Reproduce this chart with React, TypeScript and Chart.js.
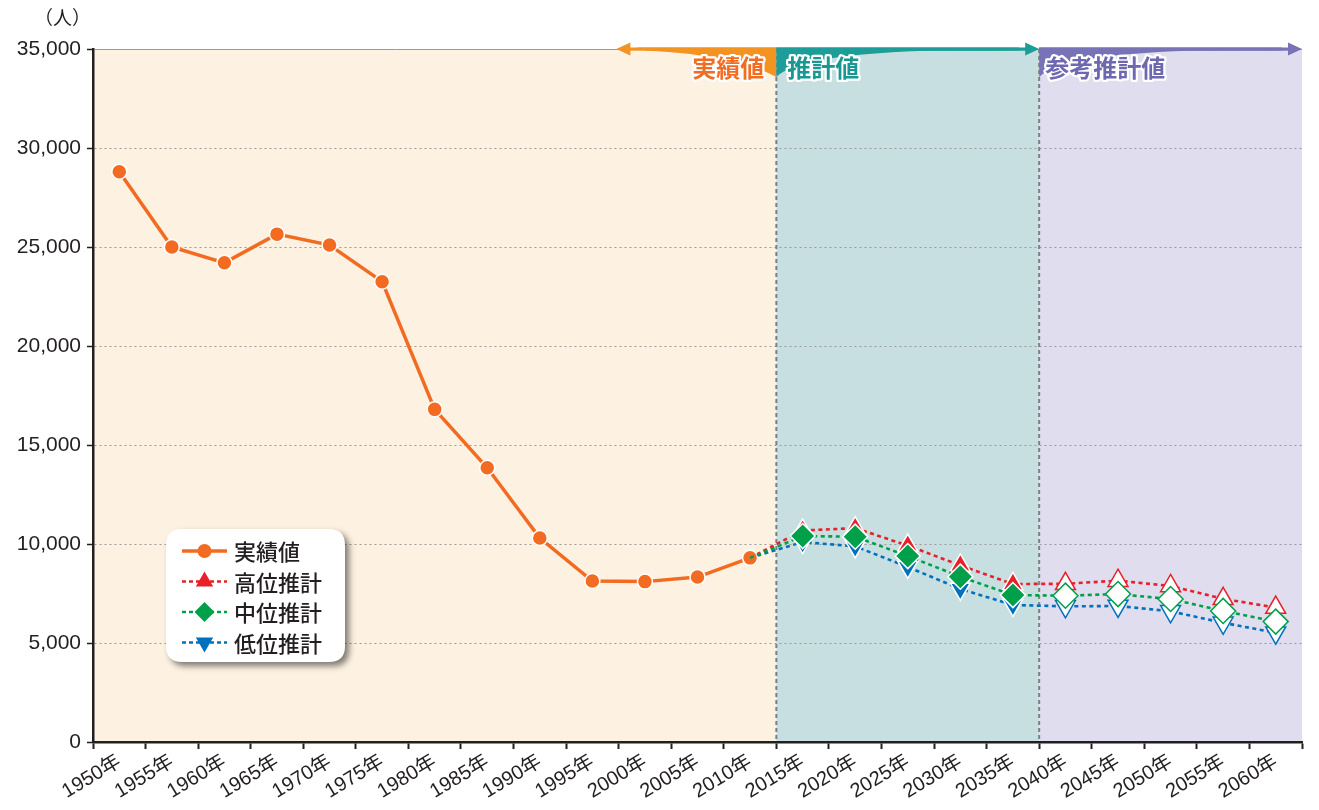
import React, { useEffect, useRef } from 'react';
import { Chart, registerables } from 'chart.js';

Chart.register(...registerables);

const years = ['1950年','1955年','1960年','1965年','1970年','1975年','1980年','1985年','1990年','1995年','2000年','2005年','2010年','2015年','2020年','2025年','2030年','2035年','2040年','2045年','2050年','2055年','2060年'];
const N = null;
const actual = [28800, 25000, 24200, 25650, 25100, 23250, 16800, 13850, 10300, 8130, 8100, 8330, 9300, N, N, N, N, N, N, N, N, N, N];
const highProj = [N, N, N, N, N, N, N, N, N, N, N, N, 9300, 10680, 10800, 9920, 8920, 7980, 7990, 8150, 7880, 7230, 6790];
const midProj = [N, N, N, N, N, N, N, N, N, N, N, N, 9300, 10400, 10370, 9390, 8350, 7420, 7390, 7470, 7220, 6620, 6080];
const lowProj = [N, N, N, N, N, N, N, N, N, N, N, N, 9300, 10100, 9880, 8840, 7730, 6920, 6850, 6870, 6600, 6020, 5520];
const yTicks = [0, 5000, 10000, 15000, 20000, 25000, 30000, 35000];
const seriesNames = ['実績値', '高位推計', '中位推計', '低位推計'];
const periodNames = ['実績値', '推計値', '参考推計値'];
const unitLabel = '（人）';

const LAST_ACTUAL = 12;
const LAST_PROJ = 17;

const NUM_FONT = "'Liberation Sans', 'Noto Sans CJK JP', sans-serif";
const JP_FONT = "'Noto Sans CJK JP', sans-serif";

const C_ORANGE = '#f26b21';
const C_RED = '#e8202a';
const C_GREEN = '#00a04a';
const C_BLUE = '#0071bc';

function ptRadius(r: number) {
  return (ctx: any) => (ctx.dataIndex === LAST_ACTUAL ? 0 : r);
}
function ptBg(color: string) {
  return (ctx: any) => (ctx.dataIndex > LAST_PROJ ? '#ffffff' : color);
}
function ptBorder(color: string) {
  return (ctx: any) => (ctx.dataIndex > LAST_PROJ ? color : '#ffffff');
}

function outlinedText(ctx: CanvasRenderingContext2D, text: string, x: number, y: number, color: string, align: CanvasTextAlign) {
  ctx.save();
  ctx.font = `bold 24px ${JP_FONT}`;
  ctx.textAlign = align;
  ctx.textBaseline = 'middle';
  ctx.lineJoin = 'round';
  ctx.lineWidth = 4.5;
  ctx.strokeStyle = '#ffffff';
  ctx.strokeText(text, x, y);
  ctx.fillStyle = color;
  ctx.fillText(text, x, y);
  ctx.restore();
}

function drawMarker(ctx: CanvasRenderingContext2D, kind: string, x: number, y: number, color: string) {
  ctx.save();
  ctx.fillStyle = color;
  ctx.beginPath();
  if (kind === 'circle') {
    ctx.arc(x, y, 7, 0, Math.PI * 2);
  } else if (kind === 'up') {
    const r = 10;
    ctx.moveTo(x, y - r);
    ctx.lineTo(x + r * 0.866, y + r / 2);
    ctx.lineTo(x - r * 0.866, y + r / 2);
    ctx.closePath();
  } else if (kind === 'down') {
    const r = 10;
    ctx.moveTo(x, y + r);
    ctx.lineTo(x + r * 0.866, y - r / 2);
    ctx.lineTo(x - r * 0.866, y - r / 2);
    ctx.closePath();
  } else {
    const r = 10;
    ctx.moveTo(x, y - r);
    ctx.lineTo(x + r, y);
    ctx.lineTo(x, y + r);
    ctx.lineTo(x - r, y);
    ctx.closePath();
  }
  ctx.fill();
  ctx.restore();
}

const overlayPlugin = {
  id: 'overlay',
  beforeDraw(chart: any) {
    const { ctx, chartArea: ca, scales } = chart;
    const x = scales.x;
    const b1 = (x.getPixelForValue(LAST_ACTUAL) + x.getPixelForValue(LAST_ACTUAL + 1)) / 2;
    const b2 = (x.getPixelForValue(LAST_PROJ) + x.getPixelForValue(LAST_PROJ + 1)) / 2;
    ctx.save();
    ctx.fillStyle = '#fdf1e1';
    ctx.fillRect(ca.left, ca.top, b1 - ca.left, ca.bottom - ca.top);
    ctx.fillStyle = '#c7dfe0';
    ctx.fillRect(b1, ca.top, b2 - b1, ca.bottom - ca.top);
    ctx.fillStyle = '#dfddee';
    ctx.fillRect(b2, ca.top, ca.right - b2, ca.bottom - ca.top);
    ctx.restore();
  },
  beforeDatasetsDraw(chart: any) {
    const { ctx, chartArea: ca, scales } = chart;
    const x = scales.x;
    const b1 = (x.getPixelForValue(LAST_ACTUAL) + x.getPixelForValue(LAST_ACTUAL + 1)) / 2;
    const b2 = (x.getPixelForValue(LAST_PROJ) + x.getPixelForValue(LAST_PROJ + 1)) / 2;
    ctx.save();
    ctx.strokeStyle = '#7f7f7f';
    ctx.lineWidth = 2;
    ctx.setLineDash([4, 3]);
    for (const bx of [b1, b2]) {
      ctx.beginPath();
      ctx.moveTo(bx, ca.top);
      ctx.lineTo(bx, ca.bottom);
      ctx.stroke();
    }
    ctx.restore();
  },
  afterDraw(chart: any) {
    const { ctx, chartArea: ca, scales } = chart;
    const x = scales.x;
    const b1 = (x.getPixelForValue(LAST_ACTUAL) + x.getPixelForValue(LAST_ACTUAL + 1)) / 2;
    const b2 = (x.getPixelForValue(LAST_PROJ) + x.getPixelForValue(LAST_PROJ + 1)) / 2;
    const top = ca.top;
    const right = ca.right;

    // unit label
    ctx.save();
    ctx.font = `19px ${JP_FONT}`;
    ctx.fillStyle = '#231f20';
    ctx.textAlign = 'left';
    ctx.textBaseline = 'middle';
    ctx.fillText(unitLabel, 34, 18);
    ctx.restore();

    const cO = '#f39321';
    const cT = '#1d9c98';
    const cP = '#7872b6';
    ctx.save();
    // orange arrow (pointing left)
    ctx.fillStyle = cO;
    ctx.fillRect(b1 - 160 + 12, top - 1.5, 160 - 12, 3.2);
    ctx.beginPath();
    ctx.moveTo(b1 - 160, top);
    ctx.lineTo(b1 - 146, top - 6.5);
    ctx.lineTo(b1 - 146, top + 6.5);
    ctx.closePath();
    ctx.fill();
    ctx.beginPath();
    ctx.moveTo(b1, top - 1.5);
    ctx.lineTo(b1 - 140, top - 1.5);
    ctx.lineTo(b1 - 130, top + 1.5);
    ctx.quadraticCurveTo(b1 - 40, top + 6, b1, top + 28);
    ctx.closePath();
    ctx.fill();

    // teal arrow
    ctx.fillStyle = cT;
    ctx.fillRect(b1, top - 1.5, b2 - b1 - 12, 3.2);
    ctx.beginPath();
    ctx.moveTo(b2, top);
    ctx.lineTo(b2 - 14, top - 6.5);
    ctx.lineTo(b2 - 14, top + 6.5);
    ctx.closePath();
    ctx.fill();
    ctx.beginPath();
    ctx.moveTo(b1, top - 1.5);
    ctx.lineTo(b1, top + 28);
    ctx.quadraticCurveTo(b1 + 22, top + 6, b1 + 150, top + 1.8);
    ctx.lineTo(b2 - 20, top + 1.6);
    ctx.lineTo(b2 - 20, top - 1.5);
    ctx.closePath();
    ctx.fill();

    // purple arrow
    ctx.fillStyle = cP;
    ctx.fillRect(b2, top - 1.5, right - b2 - 12, 3.2);
    ctx.beginPath();
    ctx.moveTo(right, top);
    ctx.lineTo(right - 14, top - 6.5);
    ctx.lineTo(right - 14, top + 6.5);
    ctx.closePath();
    ctx.fill();
    ctx.beginPath();
    ctx.moveTo(b2, top - 1.5);
    ctx.lineTo(b2, top + 28);
    ctx.quadraticCurveTo(b2 + 22, top + 6, b2 + 150, top + 1.8);
    ctx.lineTo(right - 20, top + 1.6);
    ctx.lineTo(right - 20, top - 1.5);
    ctx.closePath();
    ctx.fill();
    ctx.restore();

    outlinedText(ctx, periodNames[0], b1 - 12, top + 19, '#f26c22', 'right');
    outlinedText(ctx, periodNames[1], b1 + 11, top + 19, '#1a9793', 'left');
    outlinedText(ctx, periodNames[2], b2 + 6, top + 19, '#6e68b0', 'left');

    // legend
    const lx = 166, ly = 529, lw = 179, lh = 133, rr = 16;
    ctx.save();
    ctx.shadowColor = 'rgba(0,0,0,0.5)';
    ctx.shadowOffsetX = 4;
    ctx.shadowOffsetY = 4;
    ctx.shadowBlur = 6;
    ctx.fillStyle = '#ffffff';
    ctx.beginPath();
    ctx.moveTo(lx + rr, ly);
    ctx.lineTo(lx + lw - rr, ly);
    ctx.quadraticCurveTo(lx + lw, ly, lx + lw, ly + rr);
    ctx.lineTo(lx + lw, ly + lh - rr);
    ctx.quadraticCurveTo(lx + lw, ly + lh, lx + lw - rr, ly + lh);
    ctx.lineTo(lx + rr, ly + lh);
    ctx.quadraticCurveTo(lx, ly + lh, lx, ly + lh - rr);
    ctx.lineTo(lx, ly + rr);
    ctx.quadraticCurveTo(lx, ly, lx + rr, ly);
    ctx.closePath();
    ctx.fill();
    ctx.restore();

    const items = [
      { name: seriesNames[0], color: C_ORANGE, kind: 'circle', dash: false },
      { name: seriesNames[1], color: C_RED, kind: 'up', dash: true },
      { name: seriesNames[2], color: C_GREEN, kind: 'diamond', dash: true },
      { name: seriesNames[3], color: C_BLUE, kind: 'down', dash: true },
    ];
    items.forEach((it, i) => {
      const cy = 551 + i * 30.5;
      ctx.save();
      ctx.strokeStyle = it.color;
      ctx.lineWidth = it.dash ? 2.5 : 3.5;
      ctx.setLineDash(it.dash ? [4, 3] : []);
      ctx.beginPath();
      ctx.moveTo(182, cy);
      ctx.lineTo(227, cy);
      ctx.stroke();
      ctx.restore();
      drawMarker(ctx, it.kind, 204.5, cy, it.color);
      ctx.save();
      ctx.font = `500 22px ${JP_FONT}`;
      ctx.fillStyle = '#231f20';
      ctx.textAlign = 'left';
      ctx.textBaseline = 'middle';
      ctx.fillText(it.name, 234, cy + 1);
      ctx.restore();
    });
  },
};

export default function App() {
  const ref = useRef<HTMLCanvasElement | null>(null);
  useEffect(() => {
    document.body.style.margin = '0';
    const canvas = ref.current;
    if (!canvas) return;
    const chart = new Chart(canvas, {
      type: 'line',
      data: {
        labels: years,
        datasets: [
          {
            label: seriesNames[0],
            data: actual,
            borderColor: C_ORANGE,
            backgroundColor: C_ORANGE,
            borderWidth: 3.5,
            pointRadius: 7.5,
            pointBackgroundColor: C_ORANGE,
            pointBorderColor: '#ffffff',
            pointBorderWidth: 1.5,
            pointStyle: 'circle',
            tension: 0,
            order: 1,
          },
          {
            label: seriesNames[1],
            data: highProj,
            borderColor: C_RED,
            backgroundColor: C_RED,
            borderWidth: 2.6,
            borderDash: [4, 3.5],
            pointStyle: 'triangle',
            pointRadius: ptRadius(11.5),
            pointBackgroundColor: ptBg(C_RED),
            pointBorderColor: ptBorder(C_RED),
            pointBorderWidth: 1.5,
            tension: 0,
            order: 2,
          },
          {
            label: seriesNames[2],
            data: midProj,
            borderColor: C_GREEN,
            backgroundColor: C_GREEN,
            borderWidth: 2.6,
            borderDash: [4, 3.5],
            pointStyle: 'rectRot',
            pointRadius: ptRadius(12.5),
            pointBackgroundColor: ptBg(C_GREEN),
            pointBorderColor: ptBorder(C_GREEN),
            pointBorderWidth: 1.5,
            tension: 0,
            order: 0,
          },
          {
            label: seriesNames[3],
            data: lowProj,
            borderColor: C_BLUE,
            backgroundColor: C_BLUE,
            borderWidth: 2.6,
            borderDash: [4, 3.5],
            pointStyle: 'triangle',
            pointRotation: 180,
            pointRadius: ptRadius(11.5),
            pointBackgroundColor: ptBg(C_BLUE),
            pointBorderColor: ptBorder(C_BLUE),
            pointBorderWidth: 1.5,
            tension: 0,
            order: 3,
          },
        ],
      },
      options: {
        responsive: false,
        animation: false,
        layout: { padding: { top: 49, right: 17, left: 0, bottom: 0 } },
        plugins: {
          legend: { display: false },
          tooltip: { enabled: false },
        },
        scales: {
          x: {
            type: 'category',
            offset: true,
            grid: {
              display: true,
              offset: true,
              drawOnChartArea: false,
              drawTicks: true,
              tickLength: 7,
              tickColor: '#231f20',
              tickWidth: 2,
            },
            border: { display: true, color: '#231f20', width: 2.5 },
            ticks: {
              autoSkip: false,
              minRotation: 31,
              maxRotation: 31,
              padding: 1,
              color: '#231f20',
              font: { family: NUM_FONT, size: 20 },
            },
            afterFit(scale: any) {
              scale.height = 68;
            },
          },
          y: {
            min: 0,
            max: 35000,
            afterBuildTicks(scale: any) {
              scale.ticks = yTicks.map((v) => ({ value: v }));
            },
            grid: {
              color: '#9a9a9a',
              lineWidth: 1,
              drawTicks: true,
              tickLength: 6,
              tickColor: '#231f20',
              tickWidth: 1.5,
              tickBorderDash: [],
            },
            border: {
              display: true,
              color: '#231f20',
              width: 2.5,
              dash: (c: any) => (c.tick && c.tick.value === 35000 ? [] : [2, 3]),
            },
            ticks: {
              padding: 6,
              color: '#231f20',
              font: { family: NUM_FONT, size: 21 },
              callback: (v: any) => Number(v).toLocaleString('en-US'),
            },
            afterFit(scale: any) {
              scale.width = 93;
            },
          },
        },
      },
      plugins: [overlayPlugin],
    } as any);
    return () => chart.destroy();
  }, []);
  return (
    <div style={{ width: 1319, height: 810 }}>
      <canvas ref={ref} width={1319} height={810} />
    </div>
  );
}
